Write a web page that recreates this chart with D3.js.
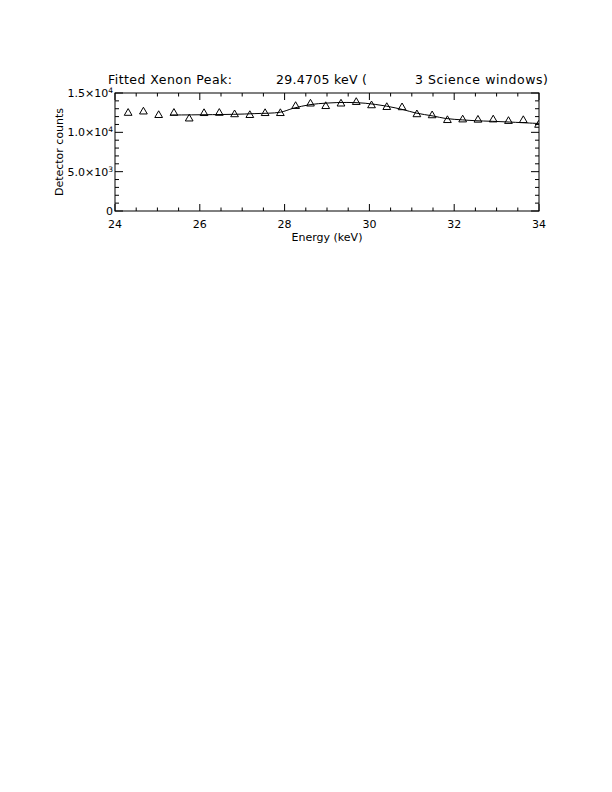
<!DOCTYPE html>
<html><head><meta charset="utf-8">
<script src="https://cdn.jsdelivr.net/npm/d3@7"></script>
<style>body{margin:0;background:#fff}svg{display:block}text{font-family:"DejaVu Sans",sans-serif;fill:#000}</style>
</head><body>
<script>
// Data
const energy = [24.31,24.67,25.03,25.39,25.75,26.10,26.46,26.82,27.18,27.54,27.90,28.26,28.61,28.97,29.33,29.69,30.05,30.41,30.77,31.12,31.48,31.84,32.20,32.56,32.92,33.28,33.63,33.99];
const counts = [12450,12620,12170,12450,11730,12420,12450,12270,12170,12420,12420,13320,13630,13310,13630,13830,13410,13190,13160,12270,12140,11530,11610,11580,11610,11420,11530,10930];
const fitEnergy = [25.3,25.8,26.3,26.8,27.3,27.9,28.2,28.6,29.0,29.47,29.9,30.4,30.8,31.1,31.5,31.8,32.2,32.5,32.9,33.3,33.6,34.0];
const fitCounts = [12200,12220,12250,12290,12380,12560,13050,13520,13720,13800,13700,13330,12880,12450,12080,11760,11580,11480,11400,11310,11230,11120];
const xTicks = [24,26,28,30,32,34];
const yTicks = [0,5000,10000,15000];
const yTickLabels = [["0",""],["5.0×10","3"],["1.0×10","4"],["1.5×10","4"]];
const titleParts = ["Fitted Xenon Peak:","29.4705 keV (","3 Science windows)"];

const W=612,H=792;
const L=115,R=539,T=93,B=211;
const svg=d3.select("body").append("svg").attr("width",W).attr("height",H);
const x=d3.scaleLinear().domain([24,34]).range([L,R]);
const y=d3.scaleLinear().domain([0,15000]).range([B,T]);

const g=svg.append("g");
// frame
g.append("rect").attr("x",L).attr("y",T).attr("width",R-L).attr("height",B-T).attr("fill","none").attr("stroke","#000").attr("stroke-width",1);

// ticks
const xMinor=d3.range(24,34.001,0.5);
const yMinor=d3.range(0,15001,1000);
function isMajorX(v){return xTicks.some(t=>Math.abs(t-v)<1e-6);}
function isMajorY(v){return yTicks.some(t=>Math.abs(t-v)<1e-6);}
xMinor.forEach(v=>{
  const len=isMajorX(v)?7:3.5, px=x(v);
  g.append("line").attr("x1",px).attr("x2",px).attr("y1",B).attr("y2",B-len).attr("stroke","#000");
  g.append("line").attr("x1",px).attr("x2",px).attr("y1",T).attr("y2",T+len).attr("stroke","#000");
});
yMinor.forEach(v=>{
  const len=isMajorY(v)?8:4, py=y(v);
  g.append("line").attr("x1",L).attr("x2",L+len).attr("y1",py).attr("y2",py).attr("stroke","#000");
  g.append("line").attr("x1",R).attr("x2",R-len).attr("y1",py).attr("y2",py).attr("stroke","#000");
});

// x tick labels
xTicks.forEach(v=>{
  g.append("text").attr("x",x(v)).attr("y",228).attr("text-anchor","middle").attr("font-size",11).text(v);
});
// y tick labels
yTicks.forEach((v,i)=>{
  const t=g.append("text").attr("x",113).attr("y",y(v)+4).attr("text-anchor","end").attr("font-size",11);
  t.append("tspan").text(yTickLabels[i][0]);
  if(yTickLabels[i][1]) t.append("tspan").attr("dy",-4).attr("font-size",7.5).text(yTickLabels[i][1]);
});

// axis titles
g.append("text").attr("x",327).attr("y",241).attr("text-anchor","middle").attr("font-size",11).text("Energy (keV)");
g.append("text").attr("transform","translate(63,152) rotate(-90)").attr("text-anchor","middle").attr("font-size",11).text("Detector counts");

// title
g.append("text").attr("x",108).attr("y",84).attr("font-size",12.5).attr("textLength",124).text(titleParts[0]);
g.append("text").attr("x",276).attr("y",84).attr("font-size",12.5).attr("textLength",91).text(titleParts[1]);
g.append("text").attr("x",548).attr("y",84).attr("text-anchor","end").attr("font-size",12.5).attr("textLength",133).text(titleParts[2]);

// clip
svg.append("clipPath").attr("id","c").append("rect").attr("x",L).attr("y",T-2).attr("width",R-L).attr("height",B-T+4);

// fit line
const line=d3.line().x((d,i)=>x(fitEnergy[i])).y((d,i)=>y(fitCounts[i])).curve(d3.curveCatmullRom);
g.append("path").datum(fitCounts).attr("d",line).attr("fill","none").attr("stroke","#000").attr("stroke-width",1);

// triangles
const tri=d3.symbol().type(d3.symbolTriangle).size(26);
g.append("g").attr("clip-path","url(#c)").selectAll("path.t").data(counts).join("path")
  .attr("transform",(d,i)=>`translate(${x(energy[i])},${y(d)})`)
  .attr("d",tri).attr("fill","none").attr("stroke","#000").attr("stroke-width",1);
</script>
</body></html>
